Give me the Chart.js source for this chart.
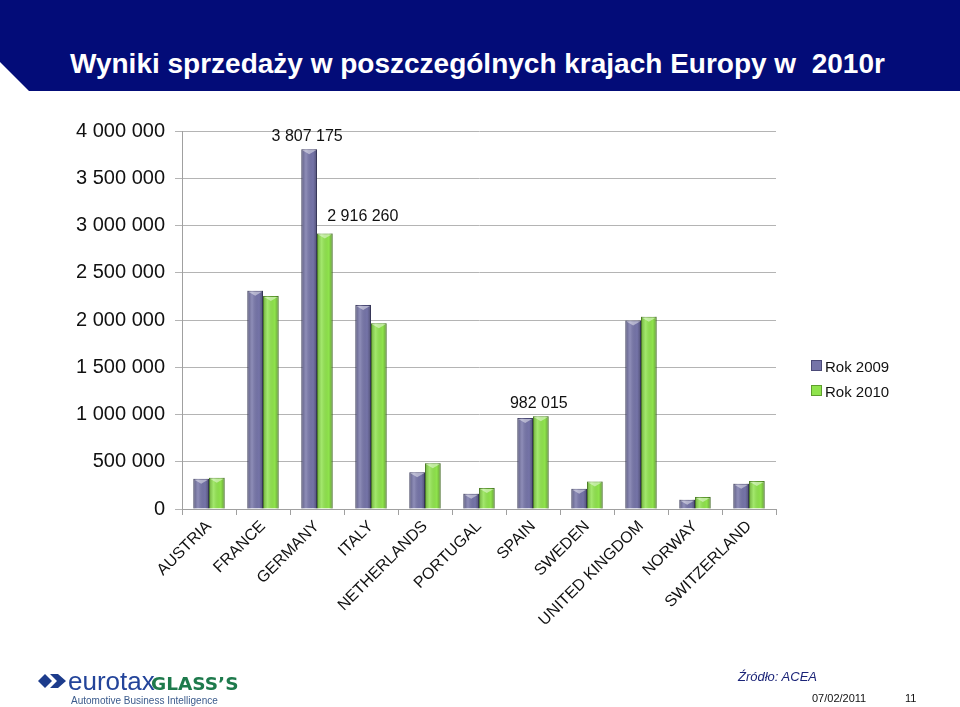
<!DOCTYPE html>
<html>
<head>
<meta charset="utf-8">
<script src="https://cdn.jsdelivr.net/npm/chart.js@4/dist/chart.umd.min.js"></script>
<style>
  body { margin: 0; background: #fff; font-family: "Liberation Sans", Arial, sans-serif; }
  #slide { position: relative; width: 960px; height: 707px; overflow: hidden; }
  #band { position: absolute; left: 0; top: 0; width: 960px; height: 91px; background: #030c78;
          clip-path: polygon(0 0, 960px 0, 960px 91px, 29px 91px, 0 62px); }
  #title { position: absolute; left: 70px; top: 48px; color: #fff; font-weight: bold; font-size: 28px; white-space: pre; }
  #chart { position: absolute; left: 0; top: 0; width: 960px; height: 707px; }
  .leg { position: absolute; left: 811px; font-size: 15px; color: #111; }
  .leg i { display: inline-block; width: 9px; height: 9px; margin-right: 3px; vertical-align: 1px; }
  #src { position: absolute; left: 738px; top: 669px; font-size: 13px; font-style: italic; color: #1b2478; }
  #date { position: absolute; left: 812px; top: 692px; font-size: 11px; color: #111; }
  #page { position: absolute; left: 905px; top: 692px; font-size: 11px; color: #111; }
  #logo { position: absolute; left: 38px; top: 666px; }
</style>
</head>
<body>
<div id="slide">
  <div id="band"></div>
  <div id="title">Wyniki sprzedaży w poszczególnych krajach Europy w  2010r</div>
  <div id="chart"><canvas id="c"></canvas></div>
  <div id="legend"></div>
  <div id="logo">
    <svg width="230" height="42" xmlns="http://www.w3.org/2000/svg">
      <polygon points="0,15 7,8 14,15 7,22" fill="#1d3c8c"/>
      <polygon points="12,8 20,8 28,15 20,22 12,22 19,15" fill="#1d3c8c"/>
      <text x="30" y="24" font-family="Liberation Sans, Arial" font-size="26" fill="#23449a">eurotax</text>
      <text x="113" y="24" font-family="DejaVu Sans, Arial" font-weight="bold" font-size="18.5" fill="#1e7a4c">GLASS’S</text>
      <text x="33" y="38" font-family="Liberation Sans, Arial" font-size="10" fill="#3b5b8c">Automotive Business Intelligence</text>
    </svg>
  </div>
  <div id="src">Źródło: ACEA</div>
  <div id="date">07/02/2011</div>
  <div id="page">11</div>
</div>
<script>
const categories = ['AUSTRIA', 'FRANCE', 'GERMANY', 'ITALY', 'NETHERLANDS', 'PORTUGAL',
  'SPAIN', 'SWEDEN', 'UNITED KINGDOM', 'NORWAY', 'SWITZERLAND'];
const seriesNames = ['Rok 2009', 'Rok 2010'];
const sales2009 = [319000, 2310000, 3807175, 2160000, 388000, 162000, 963000, 213000, 1995000, 99000, 268000];
const sales2010 = [330000, 2255000, 2916260, 1965000, 485000, 223000, 982015, 290000, 2035000, 128000, 295000];
const yTicks = [0, 500000, 1000000, 1500000, 2000000, 2500000, 3000000, 3500000, 4000000];
// punkty z etykietą wartości: [seria, kraj]
const labelled = [[0, 'GERMANY'], [1, 'GERMANY'], [1, 'SPAIN']];

const colors = ['#7574a8', '#8fe34c'];
const borders = ['#4b4a78', '#5f9e2e'];

function fmt(v) {
  return String(v).replace(/\B(?=(\d{3})+(?!\d))/g, ' ');
}

// cieniowanie słupków (efekt walca)
const shade = {
  id: 'shade',
  afterDatasetDraw(chart, args) {
    const ctx = chart.ctx;
    chart.getDatasetMeta(args.index).data.forEach(bar => {
      const l = bar.x - bar.width / 2, r = bar.x + bar.width / 2;
      const g = ctx.createLinearGradient(l, 0, r, 0);
      g.addColorStop(0, 'rgba(0,0,0,0.25)');
      g.addColorStop(0.3, 'rgba(255,255,255,0.18)');
      g.addColorStop(0.75, 'rgba(0,0,0,0)');
      g.addColorStop(1, 'rgba(0,0,0,0.3)');
      ctx.save();
      ctx.fillStyle = g;
      ctx.fillRect(l, bar.y, bar.width, bar.base - bar.y);
      ctx.fillStyle = 'rgba(255,255,255,0.45)';
      ctx.beginPath();
      ctx.moveTo(l + 1, bar.y + 1);
      ctx.lineTo(r - 1, bar.y + 1);
      ctx.lineTo(bar.x, bar.y + 5);
      ctx.closePath();
      ctx.fill();
      ctx.restore();
    });
  }
};

const valueLabels = {
  id: 'valueLabels',
  afterDatasetsDraw(chart) {
    const ctx = chart.ctx;
    ctx.save();
    ctx.font = '16px "Liberation Sans", Arial';
    ctx.fillStyle = '#111';
    ctx.textAlign = 'center';
    ctx.textBaseline = 'bottom';
    labelled.forEach(([s, name]) => {
      const i = categories.indexOf(name);
      const bar = chart.getDatasetMeta(s).data[i];
      const v = chart.data.datasets[s].data[i];
      const dx = (s === 1 && name === 'GERMANY') ? 40 : 0;
      ctx.fillText(fmt(v), bar.x + dx - 2, bar.y - (dx ? 9 : 5));
    });
    ctx.restore();
  }
};

new Chart(document.getElementById('c'), {
  type: 'bar',
  data: {
    labels: categories,
    datasets: [sales2009, sales2010].map((d, k) => ({
      label: seriesNames[k],
      data: d,
      backgroundColor: colors[k],
      borderColor: borders[k],
      borderWidth: 1,
      barPercentage: 1,
      categoryPercentage: 0.58
    }))
  },
  options: {
    responsive: true,
    maintainAspectRatio: false,
    animation: false,
    layout: { padding: { left: 0, top: 131, right: 184, bottom: 0 } },
    plugins: { legend: { display: false }, tooltip: { enabled: false } },
    scales: {
      x: {
        grid: { drawOnChartArea: false, tickLength: 6, color: '#a0a0a0' },
        border: { color: '#a0a0a0' },
        ticks: {
          autoSkip: false, minRotation: 45, maxRotation: 45, padding: 2,
          color: '#111', font: { family: '"Liberation Sans", Arial', size: 16 }
        },
        afterFit(s) { s.height = 198; }
      },
      y: {
        min: 0, max: 4000000,
        afterBuildTicks(s) { s.ticks = yTicks.map(v => ({ value: v })); },
        grid: { color: '#b4b4b4', tickLength: 7 },
        border: { color: '#a0a0a0' },
        ticks: {
          padding: 10, color: '#111',
          font: { family: '"Liberation Sans", Arial', size: 20 },
          callback: v => fmt(v)
        },
        afterFit(s) { s.width = 182; }
      }
    }
  },
  plugins: [shade, valueLabels]
});

// legenda
const leg = document.getElementById('legend');
seriesNames.forEach((n, k) => {
  const d = document.createElement('div');
  d.className = 'leg';
  d.style.top = (358 + k * 25) + 'px';
  d.innerHTML = '<i style="background:' + colors[k] + ';border:1px solid ' + borders[k] + '"></i>' + n;
  leg.appendChild(d);
});
</script>
</body>
</html>
